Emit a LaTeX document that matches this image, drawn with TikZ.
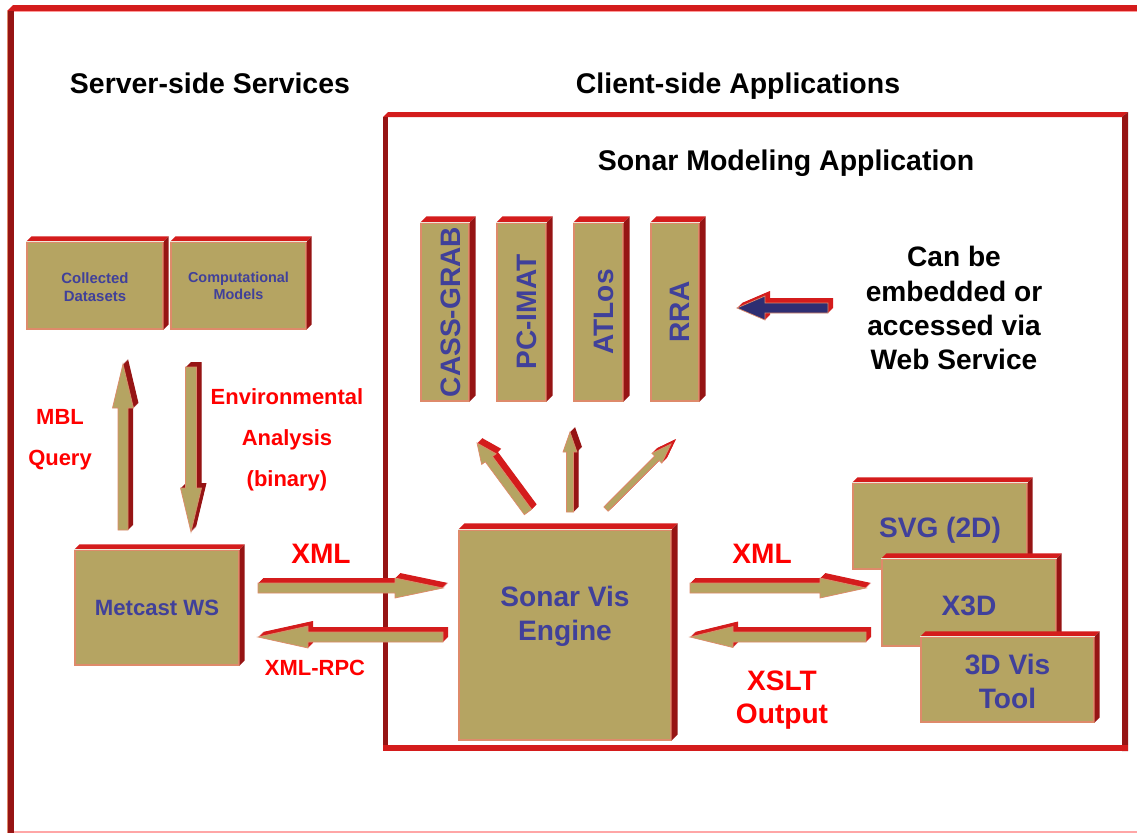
\documentclass[tikz,border=0pt]{standalone}
\usepackage{fontspec}
\setmainfont{Liberation Sans}
\usetikzlibrary{calc}
\definecolor{boxtan}{HTML}{B5A462}
\definecolor{topred}{HTML}{D41C1C}
\definecolor{sidered}{HTML}{961414}
\definecolor{edgesalmon}{HTML}{DE8A6A}
\definecolor{txtblue}{HTML}{40409A}
\definecolor{lblred}{HTML}{FF0000}
\definecolor{arrownavy}{HTML}{2E2E72}
\def\px{0.02cm}
\newcommand{\boxfaces}[2][5]{%
  \fill[topred] (#2.north west) -- ++(#1,-#1) -- ($(#2.north east)+(#1,-#1)$) -- (#2.north east) -- cycle;
  \fill[sidered] (#2.north east) -- ++(#1,-#1) -- ($(#2.south east)+(#1,-#1)$) -- (#2.south east) -- cycle;
  \draw[white!75!boxtan, line width=0.5pt] (#2.north west) -- (#2.north east);
}
\newcommand{\arrowpath}[5]{($(#1)!#3*\px!90:(#2)$) -- ($($(#2)!#5*\px!(#1)$)!#3*\px!90:(#2)$) -- ($($(#2)!#5*\px!(#1)$)!#4*\px!90:(#2)$) -- (#2) -- ($($(#2)!#5*\px!(#1)$)!#4*\px!-90:(#2)$) -- ($($(#2)!#5*\px!(#1)$)!#3*\px!-90:(#2)$) -- ($(#1)!#3*\px!-90:(#2)$) -- cycle}
\newcommand{\blockarrow}[7]{%
  \foreach \d in {5,4.5,...,0.5}{\fill[#7, transform canvas={shift={(\d*\px,\d*\px)}}] \arrowpath{#1}{#2}{#3}{#4}{#5};}
  \fill[#6, draw=edgesalmon, line width=0.4pt] \arrowpath{#1}{#2}{#3}{#4}{#5};
}
\tikzset{
  box/.style={fill=boxtan, draw=edgesalmon, line width=0.6pt, inner sep=0pt, text=txtblue,
    font=\bfseries\fontsize{16}{19.5}\selectfont, align=center},
  smallbox/.style={box, font=\bfseries\fontsize{8.5}{10}\selectfont},
  midbox/.style={box, font=\bfseries\fontsize{12.6}{15}\selectfont},
  vlabel/.style={rotate=90, text=txtblue, font=\bfseries\fontsize{16}{19}\selectfont, inner sep=0pt},
  title/.style={font=\bfseries\fontsize{16.2}{19}\selectfont, text=black},
  bigred/.style={font=\bfseries\fontsize{16}{19}\selectfont, text=lblred, align=center},
  smallred/.style={font=\bfseries\fontsize{12.5}{23.3}\selectfont, text=lblred, align=center},
  note/.style={font=\bfseries\fontsize{16}{19.4}\selectfont, text=black, align=center},
}
\begin{document}
\begin{tikzpicture}[x=0.02cm, y=-0.02cm]
\useasboundingbox (0,0) rectangle (1137,833);
\fill[white] (0,0) rectangle (1137,833);
% outer frame
\fill[topred] (7,11) -- (13,5) -- (1137,5) -- (1137,11) -- cycle;
\draw[red!40, line width=0.5pt] (13,11.3) -- (1137,11.3);
\fill[sidered] (8,11) rectangle (14,833);
\draw[edgesalmon, line width=0.6pt] (7.5,11) -- (7.5,833);
\draw[red!35, line width=0.8pt] (14,832) -- (1137,832);
% inner frame
\fill[topred] (383,117) -- (388,112) -- (1128,112) -- (1122,117) -- cycle;
\fill[sidered] (383,117) rectangle (388,751);
\fill[sidered] (1122,117) -- (1128,112) -- (1128,751) -- (1122,751) -- cycle;
\fill[topred] (383,745) rectangle (1128,751);
% titles
\node[title] (srv) at (210,83) {Server-side Services};
\node[title] (cli) at (738,86) {Client-side Applications};
\node[title] (sma) at (786,163) {Sonar Modeling Application};
% left boxes
\node[smallbox, minimum width=136*\px, minimum height=87*\px] (data) at (95,285.5) {};
\boxfaces{data}
\node[smallbox, fill=none, draw=none] (datat) at (95,287) {Collected\\Datasets};
\node[smallbox, minimum width=135*\px, minimum height=87*\px] (comp) at (238.5,285.5) {};
\boxfaces{comp}
\node[smallbox, fill=none, draw=none, font=\bfseries\fontsize{8.2}{9.6}\selectfont] (compt) at (238.5,286) {Computational\\Models};
\node[midbox, minimum width=164*\px, minimum height=115*\px] (metcast) at (157,607.5) {Metcast WS};
\boxfaces{metcast}
% vertical boxes
\node[box, minimum width=48*\px, minimum height=178*\px] (cass) at (445,312) {};
\boxfaces[6]{cass}
\node[vlabel] (casst) at ($(cass)+(6,0)$) {CASS-GRAB};
\node[box, minimum width=49*\px, minimum height=178*\px] (pcimat) at (521.5,312) {};
\boxfaces[6]{pcimat}
\node[vlabel] (pcimatt) at ($(pcimat)+(5,0)$) {PC-IMAT};
\node[box, minimum width=49*\px, minimum height=178*\px] (atlos) at (598.5,312) {};
\boxfaces[6]{atlos}
\node[vlabel] (atlost) at ($(atlos)+(5,0)$) {ATLos};
\node[box, minimum width=48*\px, minimum height=178*\px] (rra) at (675,312) {};
\boxfaces[6]{rra}
\node[vlabel] (rrat) at ($(rra)+(5,0)$) {RRA};
% engine
\node[box, minimum width=212*\px, minimum height=210*\px] (engine) at (565,635) {};
\boxfaces[6]{engine}
\node[box, fill=none, draw=none] (enginet) at (565,616) {Sonar Vis\\Engine};
% output boxes
\node[box, minimum width=174*\px, minimum height=86*\px] (svg) at (940,526) {};
\boxfaces{svg}
\node[box, fill=none, draw=none] (svgt) at (940,530) {SVG (2D)};
\node[box, minimum width=174*\px, minimum height=87*\px] (x3d) at (969,602.5) {};
\boxfaces{x3d}
\node[box, fill=none, draw=none] (x3dt) at (969,605.5) {X3D};
\node[box, minimum width=173*\px, minimum height=85*\px] (vis) at (1007.5,679.5) {};
\boxfaces{vis}
\node[box, fill=none, draw=none] (vist) at (1007.5,681.5) {3D Vis\\Tool};
% note
\node[note] (note) at (954,308) {Can be\\embedded or\\accessed via\\Web Service};
% labels
\node[smallred] (mbl) at (60,440) {MBL\\Query};
\node[smallred] (env) at (287,440) {Environmental\\Analysis\\(binary)};
\node[bigred] (xml1) at (321,554) {XML};
\node[smallred] (rpc) at (315,668) {XML-RPC};
\node[bigred] (xml2) at (762,554) {XML};
\node[bigred] (xslt) at (782,700) {XSLT\\Output};
% arrow end points
\coordinate (mblA) at (123,530); \coordinate (mblB) at (123,364);
\coordinate (envA) at (191,367); \coordinate (envB) at (191,532);
\coordinate (x1A) at (258,588); \coordinate (x1B) at (443,588);
\coordinate (r1A) at (443,637); \coordinate (r1B) at (258,637);
\coordinate (x2A) at (690,588); \coordinate (x2B) at (866,588);
\coordinate (s2A) at (866,637); \coordinate (s2B) at (690,637);
\coordinate (d1A) at (528,512); \coordinate (d1B) at (477,443);
\coordinate (d2A) at (570,512); \coordinate (d2B) at (570,432);
\coordinate (d3A) at (606,509); \coordinate (d3B) at (671,444);
\coordinate (bA) at (828,308); \coordinate (bB) at (737,308);
% arrows
\blockarrow{mblA}{mblB}{5}{10.5}{44}{boxtan}{sidered}
\blockarrow{envA}{envB}{5.5}{10.5}{44}{boxtan}{sidered}
\blockarrow{x1A}{x1B}{5}{10}{48}{boxtan}{topred}
\blockarrow{r1A}{r1B}{5}{11}{50}{boxtan}{topred}
\blockarrow{x2A}{x2B}{5}{10}{46}{boxtan}{topred}
\blockarrow{s2A}{s2B}{5}{10.5}{43}{boxtan}{topred}
\blockarrow{d1A}{d1B}{4.5}{9}{20}{boxtan}{topred}
\blockarrow{d2A}{d2B}{3.5}{7}{20}{boxtan}{sidered}
\blockarrow{d3A}{d3B}{3}{7}{20}{boxtan}{topred}
\blockarrow{bA}{bB}{5}{12}{28}{arrownavy}{topred}
\end{tikzpicture}
\end{document}
